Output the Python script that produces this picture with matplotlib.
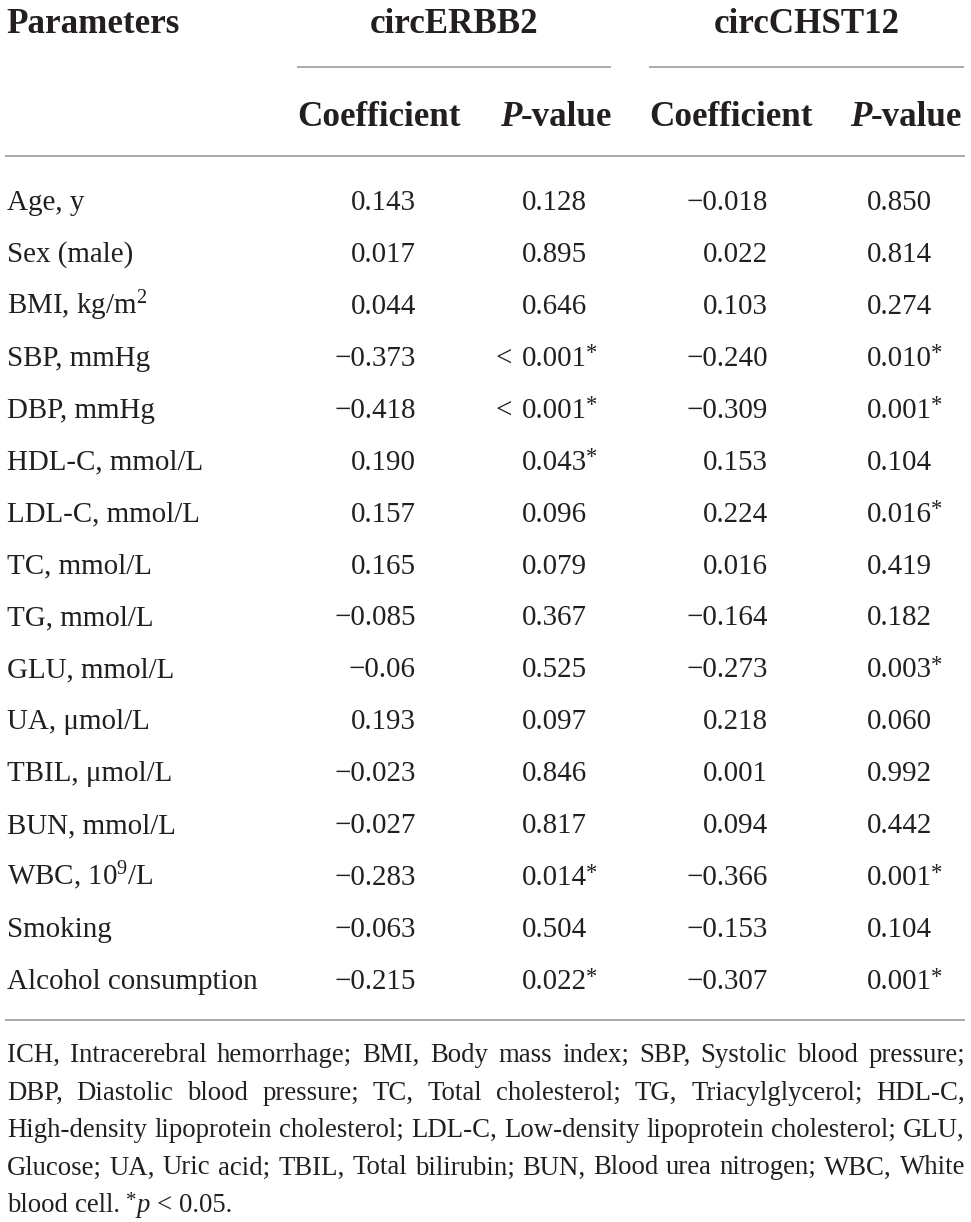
import matplotlib
matplotlib.use("Agg")
import matplotlib.pyplot as plt

plt.rcParams["font.family"] = ["Liberation Serif", "DejaVu Serif"]
plt.rcParams["mathtext.fontset"] = "custom"
plt.rcParams["mathtext.rm"] = "Liberation Serif"
plt.rcParams["mathtext.it"] = "Liberation Serif:italic"

# ---- data ----
GROUPS = ["circERBB2", "circCHST12"]

PARAMETERS = [
    "Age, y", "Sex (male)", "BMI, kg/m$^{2}$", "SBP, mmHg", "DBP, mmHg",
    "HDL-C, mmol/L", "LDL-C, mmol/L", "TC, mmol/L", "TG, mmol/L",
    "GLU, mmol/L", "UA, \u03bcmol/L", "TBIL, \u03bcmol/L", "BUN, mmol/L",
    "WBC, 10$^{9}$/L", "Smoking", "Alcohol consumption",
]
ERBB2_COEF = ["0.143", "0.017", "0.044", "\u22120.373", "\u22120.418", "0.190",
              "0.157", "0.165", "\u22120.085", "\u22120.06", "0.193", "\u22120.023",
              "\u22120.027", "\u22120.283", "\u22120.063", "\u22120.215"]
ERBB2_P = ["0.128", "0.895", "0.646", "< 0.001*", "< 0.001*", "0.043*",
           "0.096", "0.079", "0.367", "0.525", "0.097", "0.846",
           "0.817", "0.014*", "0.504", "0.022*"]
CHST12_COEF = ["\u22120.018", "0.022", "0.103", "\u22120.240", "\u22120.309", "0.153",
               "0.224", "0.016", "\u22120.164", "\u22120.273", "0.218", "0.001",
               "0.094", "\u22120.366", "\u22120.153", "\u22120.307"]
CHST12_P = ["0.850", "0.814", "0.274", "0.010*", "0.001*", "0.104",
            "0.016*", "0.419", "0.182", "0.003*", "0.060", "0.992",
            "0.442", "0.001*", "0.104", "0.001*"]

FOOTNOTE = [
    "ICH, Intracerebral hemorrhage; BMI, Body mass index; SBP, Systolic blood pressure;",
    "DBP, Diastolic blood pressure; TC, Total cholesterol; TG, Triacylglycerol; HDL-C,",
    "High-density lipoprotein cholesterol; LDL-C, Low-density lipoprotein cholesterol; GLU,",
    "Glucose; UA, Uric acid; TBIL, Total bilirubin; BUN, Blood urea nitrogen; WBC, White",
]

# ---- layout (pixels) ----
W, H, DPI = 971, 1222, 100
TXT = "#231f20"
RULE = "#a9a9a9"
PT = 72.0 / DPI
BODY = 29 * PT
HEAD = 35 * PT

fig = plt.figure(figsize=(W / DPI, H / DPI), dpi=DPI)
ax = fig.add_axes([0, 0, 1, 1])
ax.set_xlim(0, W)
ax.set_ylim(H, 0)
ax.axis("off")
fig.canvas.draw()
rend = fig.canvas.get_renderer()


def twidth(s, size, **kw):
    t = ax.text(0, 0, s, fontsize=size, **kw)
    w = t.get_window_extent(rend).width
    t.remove()
    return w


def star(x, y, size):
    # small raised asterisk
    ax.text(x, y - 0.22 * size / PT, "*", fontsize=size * 0.78, color=TXT,
            ha="left", va="baseline")


L, R = 6, 964

# header
ax.text(L, 33, "Parameters", fontsize=HEAD, fontweight="bold", color=TXT, va="baseline")
group_spans = [(297, 611), (649, 964)]
for name, (a, b) in zip(GROUPS, group_spans):
    ax.text((a + b) / 2, 33, name, fontsize=HEAD, fontweight="bold", color=TXT,
            ha="center", va="baseline")
    ax.plot([a, b], [67, 67], color=RULE, lw=1.4, solid_capstyle="butt")

sub_centers = [379, 556, 731, 906]
wp = twidth("P", HEAD, fontweight="bold", style="italic")
wv = twidth("-value", HEAD, fontweight="bold")
for i, c in enumerate(sub_centers):
    if i % 2 == 0:
        ax.text(c, 126, "Coefficient", fontsize=HEAD, fontweight="bold", color=TXT,
                ha="center", va="baseline")
    else:
        x0 = min(c - (wp + wv) / 2, R + 4 - wp - wv)
        ax.text(x0, 126, "P", fontsize=HEAD, fontweight="bold", style="italic",
                color=TXT, ha="left", va="baseline")
        ax.text(x0 + wp, 126, "-value", fontsize=HEAD, fontweight="bold", color=TXT,
                ha="left", va="baseline")

ax.plot([L, R], [156, 156], color=RULE, lw=1.4)

# body
y0, dy = 210, 51.93
coef_right = [416, 768]
p_left = [522, 867]
for k, label in enumerate(PARAMETERS):
    y = y0 + k * dy
    ax.text(L + 1, y, label, fontsize=BODY, color=TXT, va="baseline")
    for g, (coefs, ps) in enumerate([(ERBB2_COEF, ERBB2_P), (CHST12_COEF, CHST12_P)]):
        ax.text(coef_right[g], y, coefs[k], fontsize=BODY, color=TXT, ha="right",
                va="baseline")
        p = ps[k]
        if p.startswith("<"):
            ax.text(p_left[g] - 10, y, "<", fontsize=BODY, color=TXT, ha="right",
                    va="baseline")
            p = p[1:].strip()
        sig = p.endswith("*")
        p = p.rstrip("*")
        ax.text(p_left[g], y, p, fontsize=BODY, color=TXT, ha="left", va="baseline")
        if sig:
            star(p_left[g] + twidth(p, BODY) - 1, y, BODY)

ax.plot([L, R], [1020, 1020], color=RULE, lw=1.4)

# footnote, justified; size chosen so the tightest line fits with plain spaces
NOTE = 26 * PT
natural = max(twidth(s, NOTE) for s in FOOTNOTE)
NOTE = NOTE * (R - L) / natural * 0.997
space = twidth("a a", NOTE) - twidth("aa", NOTE)

note_base = [1062, 1099.5, 1137, 1174.5, 1212]
for line, y in zip(FOOTNOTE, note_base):
    words = line.split(" ")
    ws = [twidth(w, NOTE) for w in words]
    gap = (R - L - sum(ws)) / (len(words) - 1)
    x = L + 1
    for w, wd in zip(words, ws):
        ax.text(x, y, w, fontsize=NOTE, color=TXT, va="baseline")
        x += wd + gap

yb = note_base[-1]
x = L + 1
for seg in ["blood", "cell."]:
    ax.text(x, yb, seg, fontsize=NOTE, color=TXT, va="baseline")
    x += twidth(seg, NOTE) + space
star(x, yb, NOTE)
x += twidth("*", NOTE * 0.78)
ax.text(x, yb, "p", fontsize=NOTE, style="italic", color=TXT, va="baseline")
x += twidth("p", NOTE, style="italic") + space
for seg in ["<", "0.05."]:
    ax.text(x, yb, seg, fontsize=NOTE, color=TXT, va="baseline")
    x += twidth(seg, NOTE) + space

fig.savefig("out.png", dpi=DPI, facecolor="white")
